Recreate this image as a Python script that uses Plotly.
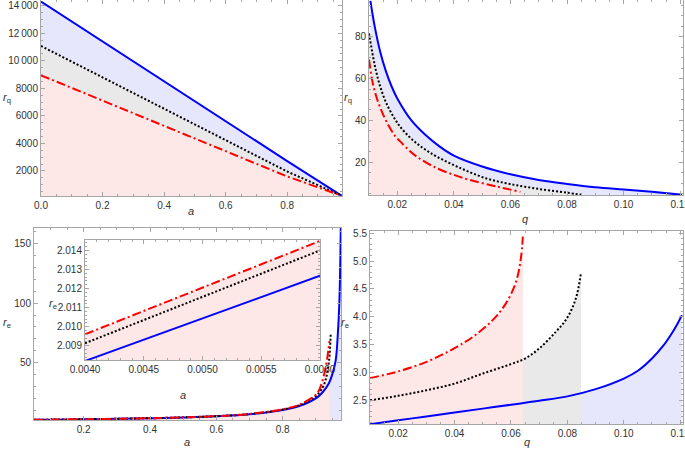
import plotly.graph_objects as go

# ---------------- data ----------------
# Panel 1: r_q versus a
a_top = [0.0, 0.2, 0.4, 0.6, 0.8, 0.977]
rq_a_blue = [14300, 11400, 8500, 5600, 2720, 200]
rq_a_black = [11080, 8800, 6520, 4240, 1960, 200]
rq_a_red = [8950, 7120, 5280, 3440, 1600, 200]

# Panel 2: r_q versus q
q_rq_blue = [0.0105, 0.012, 0.014, 0.016, 0.018, 0.02, 0.025, 0.03, 0.035, 0.04,
             0.05, 0.06, 0.07, 0.08, 0.09, 0.10, 0.11, 0.1206]
rq_q_blue = [97.1, 85, 72.5, 63.4, 56.2, 50.5, 40, 33, 27.5, 23.2,
             18.0, 14.3, 11.6, 9.7, 8.1, 7.0, 5.9, 4.5]
q_rq_black = [0.01, 0.0115, 0.0126, 0.014, 0.0162, 0.019, 0.021, 0.024, 0.0269, 0.03,
              0.034, 0.0424, 0.0515, 0.06, 0.07, 0.08, 0.0855]
rq_q_black = [81.5, 70, 63, 56, 48, 41, 37, 32.5, 29, 26, 22.7, 17.2, 12.3, 9.6, 7.3, 5.5, 4.4]
q_rq_red = [0.01, 0.0113, 0.0126, 0.014, 0.0162, 0.019, 0.021, 0.024, 0.0269, 0.0329,
            0.04, 0.0456, 0.055, 0.0635]
rq_q_red = [69, 58, 51.3, 46, 39.4, 33, 30, 26, 22.7, 17.9, 14, 11.6, 8.5, 5.9]

# Panel 3: r_e versus a
a_re_blue = [0.05, 0.1, 0.2, 0.3, 0.4, 0.5, 0.6, 0.7, 0.8, 0.85, 0.9, 0.92, 0.94, 0.95,
             0.96, 0.966, 0.971, 0.9755]
re_a_blue = [2.05, 2.2, 2.5, 2.85, 3.35, 4.0, 5.0, 6.7, 10.3, 13.6, 20.0, 25.0, 33.0, 40.5,
             52, 72, 100, 165]
a_re_black = [0.05, 0.1, 0.2, 0.3, 0.4, 0.5, 0.6, 0.7, 0.8, 0.85, 0.9, 0.92, 0.93, 0.94, 0.945]
re_a_black = [2.07, 2.22, 2.53, 2.9, 3.4, 4.07, 5.1, 6.9, 10.7, 14.3, 22, 29, 36, 52, 74]
a_re_red = [0.05, 0.1, 0.2, 0.3, 0.4, 0.5, 0.6, 0.7, 0.8, 0.85, 0.9, 0.91, 0.924, 0.934, 0.941]
re_a_red = [2.08, 2.23, 2.54, 2.91, 3.42, 4.1, 5.15, 7.0, 10.9, 14.7, 23, 27, 39, 53, 68]

# Inset of panel 3
a_inset = [0.004, 0.006]
re_in_blue = [2.0082, 2.01267]
re_in_black = [2.00913, 2.01400]
re_in_red = [2.00960, 2.01450]

# Panel 4: r_e versus q
q_re_blue = [0.01, 0.02, 0.03, 0.04, 0.05, 0.06, 0.07, 0.08, 0.09, 0.10, 0.105, 0.11,
             0.114, 0.117, 0.119, 0.1206]
re_q_blue = [2.07, 2.14, 2.21, 2.28, 2.35, 2.42, 2.49, 2.57, 2.70, 2.89, 3.03, 3.25,
             3.48, 3.70, 3.87, 4.03]
q_re_black = [0.01, 0.02, 0.03, 0.04, 0.05, 0.06, 0.065, 0.07, 0.0759, 0.0798, 0.083, 0.0848]
re_q_black = [2.5, 2.58, 2.68, 2.80, 2.98, 3.15, 3.25, 3.43, 3.73, 3.97, 4.33, 4.78]
q_re_red = [0.01, 0.0194, 0.03, 0.0394, 0.0465, 0.0535, 0.0582, 0.0618, 0.0635, 0.0642]
re_q_red = [2.90, 3.01, 3.19, 3.42, 3.64, 3.94, 4.24, 4.63, 5.05, 5.44]

# ---------------- styling ----------------
W, H = 685, 452
BLUE = "rgb(0,0,255)"
RED = "rgb(255,0,0)"
BLACK = "rgb(0,0,0)"
F_BLUE = "rgb(230,230,252)"
F_GRAY = "rgb(233,233,233)"
F_PINK = "rgb(253,231,231)"
FRAME = "#a6a6a6"
TXT = "#333333"
FONT = "Liberation Sans"


def px(x):
    return x / W


def py(y):
    return 1 - y / H


fig = go.Figure()


def add_panel(idx, xs, ys, shape):
    xa = "x" if idx == 1 else f"x{idx}"
    ya = "y" if idx == 1 else f"y{idx}"
    pairs = list(zip(xs, ys))
    for (x, y), fc in zip(pairs, [F_BLUE, F_GRAY, F_PINK]):
        fig.add_trace(go.Scatter(x=x, y=y, mode="lines", line=dict(width=0, shape=shape),
                                 fill="tozeroy", fillcolor=fc, xaxis=xa, yaxis=ya,
                                 hoverinfo="skip", showlegend=False))
    styles = [dict(color=BLUE, width=2),
              dict(color=BLACK, width=2, dash="2px,2px"),
              dict(color=RED, width=2, dash="9px,3px,2px,3px")]
    for (x, y), st in zip(pairs, styles):
        st = dict(st)
        st["shape"] = shape
        fig.add_trace(go.Scatter(x=x, y=y, mode="lines", line=st, xaxis=xa, yaxis=ya,
                                 showlegend=False))


add_panel(1, [a_top, a_top, a_top], [rq_a_blue, rq_a_black, rq_a_red], "linear")
add_panel(2, [q_rq_blue, q_rq_black, q_rq_red], [rq_q_blue, rq_q_black, rq_q_red], "spline")
add_panel(3, [a_re_blue, a_re_black, a_re_red], [re_a_blue, re_a_black, re_a_red], "spline")
add_panel(4, [q_re_blue, q_re_black, q_re_red], [re_q_blue, re_q_black, re_q_red], "spline")
add_panel(5, [a_inset, a_inset, a_inset], [re_in_blue, re_in_black, re_in_red], "linear")


def axis(domain, rng, dtick, minor, fmt=None, tickvals=None, ticktext=None, anchor=None):
    d = dict(domain=domain, range=rng, showgrid=False, zeroline=False, showline=True,
             linecolor=FRAME, linewidth=1, mirror="ticks", ticks="inside", ticklen=4,
             tickcolor=FRAME, tickwidth=1, automargin=False, ticklabeloverflow="allow",
             tickfont=dict(family=FONT, size=10, color=TXT),
             minor=dict(ticks="inside", ticklen=2, tickcolor=FRAME, dtick=minor, showgrid=False),
             anchor=anchor)
    if tickvals is not None:
        d["tickvals"] = tickvals
        d["ticktext"] = ticktext
        d["tickmode"] = "array"
    else:
        d["dtick"] = dtick
        d["tick0"] = 0
        if fmt:
            d["tickformat"] = fmt
    return d


y1_vals = [2000, 4000, 6000, 8000, 10000, 12000, 14000]
y1_text = ["2000", "4000", "6000", "8000", "10\u2009000", "12\u2009000", "14\u2009000"]

fig.update_layout(
    template="none",
    width=W, height=H, autosize=False,
    margin=dict(l=0, r=0, t=0, b=0, pad=0),
    paper_bgcolor="white", plot_bgcolor="white",
    showlegend=False,
    xaxis=axis([px(41), px(342)], [0, 0.978], 0.2, 0.05, ".1f", anchor="y"),
    yaxis=axis([py(196), py(0)], [182, 14420], 2000, 500, tickvals=y1_vals, ticktext=y1_text,
               anchor="x"),
    xaxis2=axis([px(369), px(683)], [0.01, 0.121], 0.02, 0.005, ".2f", anchor="y2"),
    yaxis2=axis([py(195), py(0)], [4.4, 97.5], 20, 5, "d", anchor="x2"),
    xaxis3=axis([px(34), px(341)], [0.05, 0.976], 0.2, 0.05, ".1f", anchor="y3"),
    yaxis3=axis([py(420), py(228)], [1.9, 163], 50, 10, "d", anchor="x3"),
    xaxis4=axis([px(370), px(683)], [0.01, 0.121], 0.02, 0.005, ".2f", anchor="y4"),
    yaxis4=axis([py(424), py(231)], [2.074, 5.54], 0.5, 0.1, ".1f", anchor="x4"),
    xaxis5=axis([px(85), px(320)], [0.004, 0.006], 0.0005, 0.0001, ".4f", anchor="y5"),
    yaxis5=axis([py(360), py(240)], [2.00825, 2.01455], 0.001, 0.0002, ".3f", anchor="x5"),
)

labels = [
    ("<i>a</i>", 191, 211),
    ("<i>r</i><sub>q</sub>", 7, 98),
    ("<i>q</i>", 525, 219),
    ("<i>r</i><sub>q</sub>", 348, 98),
    ("<i>a</i>", 187, 442),
    ("<i>r</i><sub>e</sub>", 7, 323),
    ("<i>a</i>", 183, 395),
    ("<i>r</i><sub>e</sub>", 53, 304),
    ("<i>q</i>", 527, 442),
    ("<i>r</i><sub>e</sub>", 345, 323),
]
for t, x, y in labels:
    fig.add_annotation(text=t, x=px(x), y=py(y), xref="paper", yref="paper", showarrow=False,
                       font=dict(family=FONT, size=11, color=TXT), xanchor="center",
                       yanchor="middle")

fig.write_html("out.html", config={"displayModeBar": False},
               post_script="document.body.style.margin='0px';")
